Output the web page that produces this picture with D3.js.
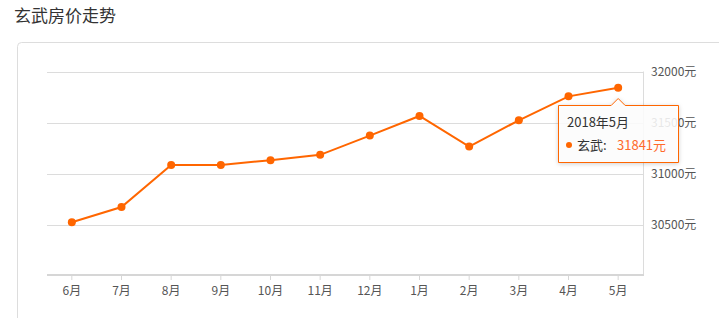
<!DOCTYPE html>
<html>
<head>
<meta charset="utf-8">
<script src="https://cdn.jsdelivr.net/npm/d3@7"></script>
<style>
body { margin: 0; background: #fff; font-family: "Microsoft YaHei", "Noto Sans CJK SC", sans-serif; }
svg { display: block; }
</style>
</head>
<body>
<svg></svg>
<script>
var months = ["6月", "7月", "8月", "9月", "10月", "11月", "12月", "1月", "2月", "3月", "4月", "5月"];
var prices = [30525, 30675, 31085, 31085, 31133, 31185, 31373, 31565, 31266, 31523, 31757, 31841];
var yTicks = [30500, 31000, 31500, 32000];
var title = "玄武房价走势";
var seriesName = "玄武";
var tipTitle = "2018年5月";

var width = 719, height = 318;
var orange = "#ff6600";
var svg = d3.select("svg").attr("width", width).attr("height", height);

// title and card
svg.append("text").text(title)
	.attr("x", 14).attr("y", 22)
	.attr("font-size", 17).attr("fill", "#333");
svg.append("rect")
	.attr("x", 17.5).attr("y", 42.5).attr("width", 760).attr("height", 320)
	.attr("rx", 4).attr("fill", "#fff").attr("stroke", "#ddd");

var plotLeft = 47, plotRight = 643, plotTop = 71.5, plotBottom = 275;
var x = d3.scaleBand().domain(months).range([plotLeft, plotRight]);
var y = d3.scaleLinear().domain([30000, 32000]).range([plotBottom + 1, plotTop]);
var cx = function(d, i){ return x(months[i]) + x.bandwidth() / 2; };

// gridlines
svg.append("g").selectAll("line").data(yTicks).enter().append("line")
	.attr("x1", plotLeft).attr("x2", plotRight)
	.attr("y1", function(d){ return Math.round(y(d)) + 0.5; })
	.attr("y2", function(d){ return Math.round(y(d)) + 0.5; })
	.attr("stroke", "#dcdcdc");
svg.append("line")
	.attr("x1", plotRight + 0.5).attr("x2", plotRight + 0.5)
	.attr("y1", plotTop).attr("y2", plotBottom)
	.attr("stroke", "#dcdcdc");

// y labels on the right
svg.append("g").selectAll("text").data(yTicks).enter().append("text")
	.text(function(d){ return d + "元"; })
	.attr("x", 651).attr("y", function(d){ return y(d) + 4; })
	.attr("font-size", 12).attr("fill", "#555");

// x axis
var xAxis = svg.append("g")
	.attr("transform", "translate(0," + plotBottom + ")")
	.call(d3.axisBottom(x).tickSize(5).tickPadding(6));
xAxis.select(".domain").attr("stroke", "#d6d6d6").attr("stroke-width", 2)
	.attr("d", "M" + plotLeft + ",0H" + (plotRight + 1));
xAxis.selectAll(".tick line").attr("stroke", "#d6d6d6");
xAxis.selectAll(".tick text").attr("font-size", 12).attr("fill", "#555")
	.attr("font-family", "'Microsoft YaHei', 'Noto Sans CJK SC', sans-serif");

// line + dots
var line = d3.line().x(cx).y(function(d){ return y(d); });
svg.append("path").datum(prices)
	.attr("d", line).attr("fill", "none")
	.attr("stroke", orange).attr("stroke-width", 2);
svg.append("g").selectAll("circle").data(prices).enter().append("circle")
	.attr("cx", cx).attr("cy", function(d){ return y(d); })
	.attr("r", 4).attr("fill", orange);

// tooltip on last point
var last = prices.length - 1;
var px = cx(prices[last], last), py = y(prices[last]);
var tx = 558.5, ty = 105.5, tw = 120, th = 57;
var tip = svg.append("g");
var defs = svg.append("defs");
var f = defs.append("filter").attr("id", "sh").attr("x", -0.2).attr("y", -0.2).attr("width", 1.4).attr("height", 1.4);
f.append("feDropShadow").attr("dx", 0).attr("dy", 1).attr("stdDeviation", 2).attr("flood-color", "#000").attr("flood-opacity", 0.2);
tip.append("path")
	.attr("d", "M" + tx + "," + ty + "H" + (px - 7) + "L" + px + "," + (ty - 7) + "L" + (px + 7) + "," + ty +
		"H" + (tx + tw) + "V" + (ty + th) + "H" + tx + "Z")
	.attr("fill", "#fff").attr("fill-opacity", 0.85)
	.attr("stroke", orange).attr("stroke-width", 1)
	.attr("filter", "url(#sh)");
tip.append("text").text(tipTitle)
	.attr("x", 567).attr("y", 127).attr("font-size", 13).attr("fill", "#333");
tip.append("circle").attr("cx", 569).attr("cy", 145).attr("r", 3).attr("fill", orange);
tip.append("text").text(seriesName + ":")
	.attr("x", 577).attr("y", 149.5).attr("font-size", 13).attr("fill", "#333");
tip.append("text").text(prices[last] + "元")
	.attr("x", 617).attr("y", 149.5).attr("font-size", 13).attr("fill", "#ff6a2b");
</script>
</body>
</html>
